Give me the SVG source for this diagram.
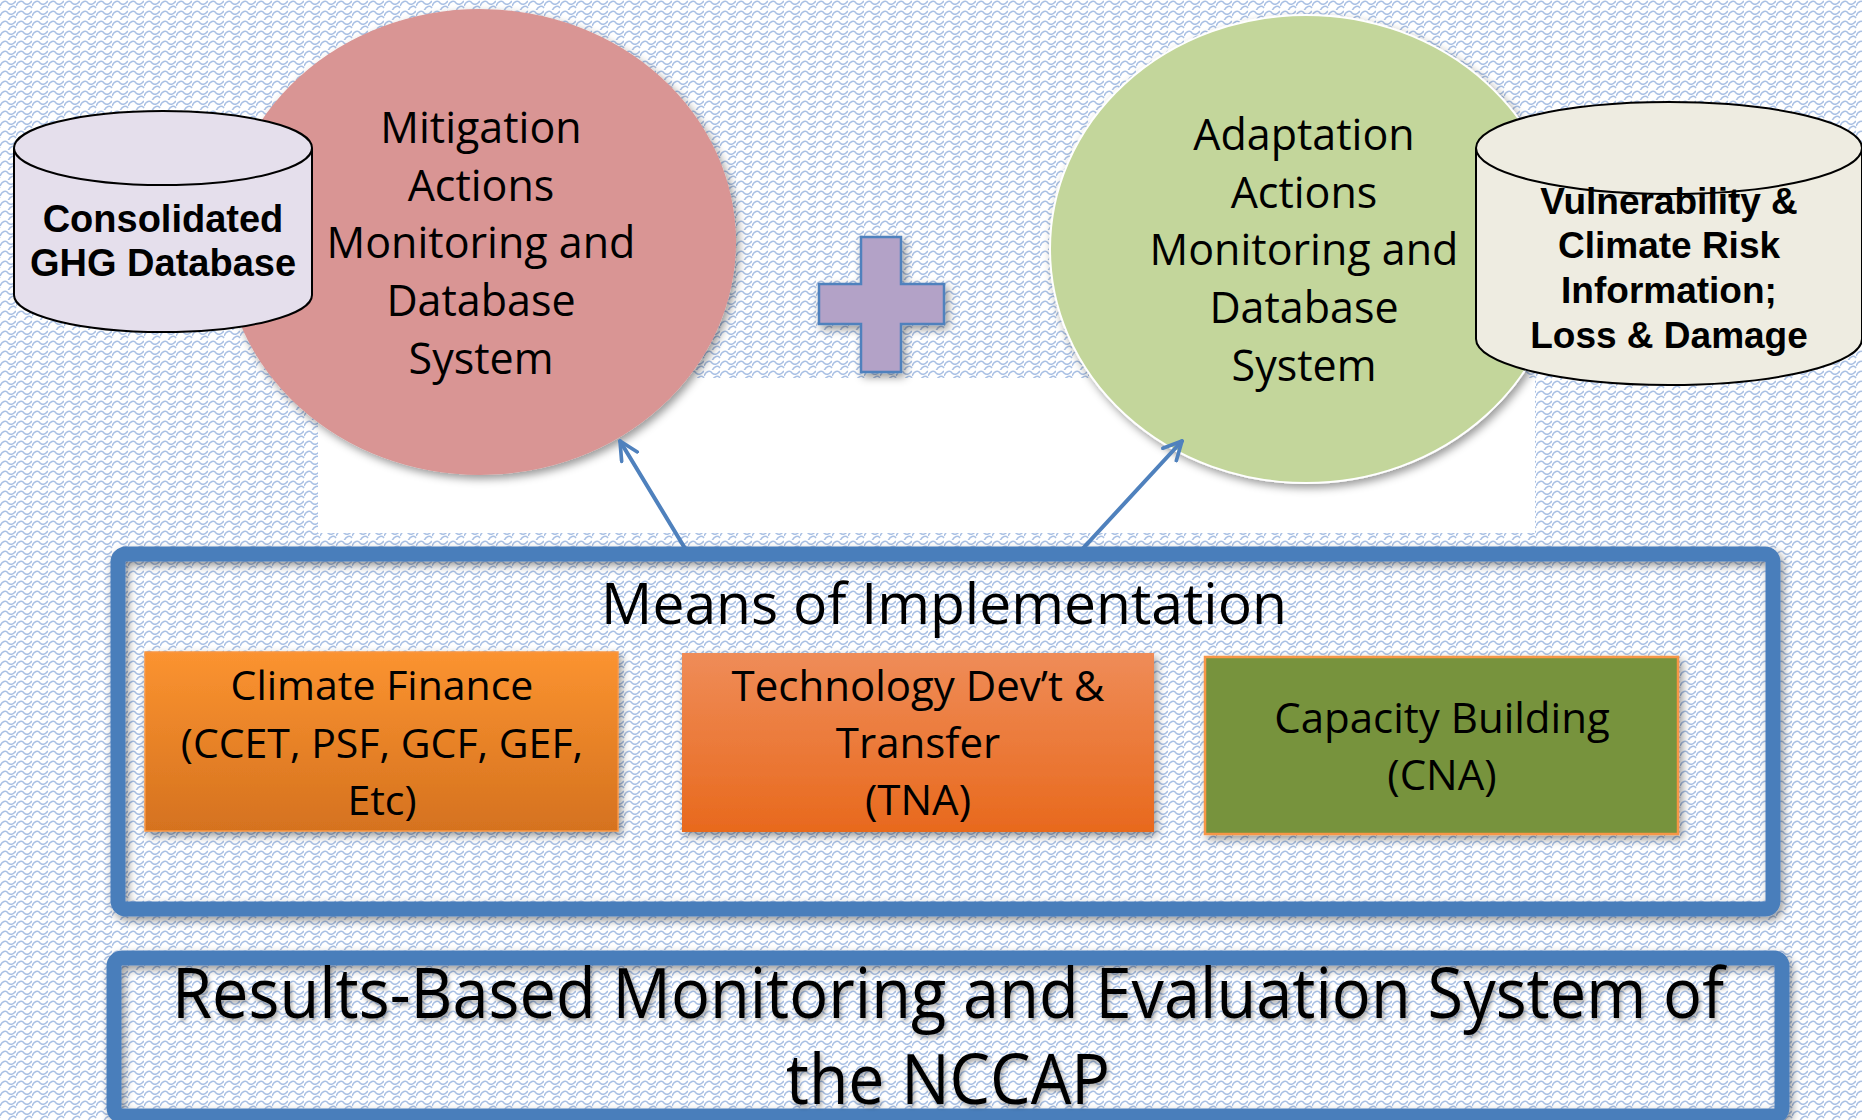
<svg xmlns="http://www.w3.org/2000/svg" width="1862" height="1120" viewBox="0 0 1862 1120">
<style>
.cal{font-family:"Open Sans","Noto Sans",sans-serif;fill:#000;text-anchor:middle}
.arb{font-family:"Liberation Sans",Arial,sans-serif;font-weight:bold;fill:#000;text-anchor:middle;font-size:37px}
.frame{fill:none;stroke:#4a7ebb;stroke-width:15}
.conn{stroke:#4f81bd;stroke-width:4;fill:none;stroke-linecap:round}
.cyl{stroke:#000;stroke-width:2}
</style>
<defs>
<pattern id="bg" width="16" height="10" patternUnits="userSpaceOnUse">
<rect width="16" height="10" fill="#fff"/>
<path d="M0,6 C2,1 6,0 8,3 C10,5 13,5 16,1 M-8,11 C-6,6 -2,5 0,8 M8,11 C10,6 14,5 16,8" fill="none" stroke="#a9c0e4" stroke-width="1.6"/>
</pattern>
<filter id="sh" x="-10%" y="-10%" width="125%" height="125%">
<feDropShadow dx="3" dy="4" stdDeviation="4" flood-color="#000" flood-opacity="0.4"/>
</filter>
<filter id="tsh" x="-5%" y="-20%" width="110%" height="150%">
<feDropShadow dx="2" dy="3" stdDeviation="2" flood-color="#000" flood-opacity="0.35"/>
</filter>
<linearGradient id="gFin" x1="0" y1="0" x2="0" y2="1">
<stop offset="0" stop-color="#fb9330"/>
<stop offset="1" stop-color="#d5721f"/>
</linearGradient>
<linearGradient id="gTech" x1="0" y1="0" x2="0" y2="1">
<stop offset="0" stop-color="#ef8c58"/>
<stop offset="1" stop-color="#e8691d"/>
</linearGradient>
<marker id="arr" viewBox="0 0 12 12" refX="11" refY="6" markerWidth="5.5" markerHeight="5.5" orient="auto" markerUnits="strokeWidth">
<path d="M1,1 L11,6 L1,11" fill="none" stroke="#4f81bd" stroke-width="2" stroke-linecap="round" stroke-linejoin="round"/>
</marker>
</defs>
<rect width="1862" height="1120" fill="url(#bg)"/>
<rect x="318" y="378" width="1217" height="155" fill="#fff"/>

<g id="mitigation">
<ellipse cx="480" cy="242" rx="256" ry="233" fill="#d99594" filter="url(#sh)"/>
<text class="cal" font-size="43"><tspan x="481" y="143">Mitigation</tspan><tspan x="481" y="201">Actions</tspan><tspan x="481" y="258">Monitoring and</tspan><tspan x="481" y="316">Database</tspan><tspan x="481" y="374">System</tspan></text>
</g>

<g id="ghg-db">
<path class="cyl" d="M14,148 L14,295 A149,37 0 0 0 312,295 L312,148" fill="#e5dfec"/>
<ellipse class="cyl" cx="163" cy="148" rx="149" ry="37" fill="#e5dfec"/>
<text class="arb" font-size="38" style="font-size:38px"><tspan x="163" y="232">Consolidated</tspan><tspan x="163" y="276">GHG Database</tspan></text>
</g>

<g id="plus">
<path d="M861,237 H901 V284 H944 V324 H901 V372 H861 V324 H819 V284 H861 Z" fill="#b3a2c7" stroke="#4f81bd" stroke-width="2.5" filter="url(#sh)"/>
</g>

<g id="adaptation">
<ellipse cx="1306" cy="249" rx="256" ry="234" fill="#c3d69b" stroke="#fff" stroke-width="2" filter="url(#sh)"/>
<text class="cal" font-size="43"><tspan x="1304" y="150">Adaptation</tspan><tspan x="1304" y="208">Actions</tspan><tspan x="1304" y="265">Monitoring and</tspan><tspan x="1304" y="323">Database</tspan><tspan x="1304" y="381">System</tspan></text>
</g>

<g id="vuln-db">
<path class="cyl" d="M1476,148 L1476,339 A193,46 0 0 0 1862,339 L1862,148" fill="#eeece1"/>
<ellipse class="cyl" cx="1669" cy="148" rx="193" ry="46" fill="#eeece1"/>
<text class="arb"><tspan x="1669" y="214">Vulnerability &amp;</tspan><tspan x="1669" y="258">Climate Risk</tspan><tspan x="1669" y="303">Information;</tspan><tspan x="1669" y="348">Loss &amp; Damage</tspan></text>
</g>

<g id="connectors">
<line class="conn" x1="686" y1="550" x2="620" y2="441" marker-end="url(#arr)"/>
<line class="conn" x1="1075" y1="557" x2="1182" y2="441" marker-end="url(#arr)"/>
</g>

<g id="means">
<rect class="frame" x="118" y="554" width="1655" height="355" rx="8" filter="url(#sh)"/>
<text class="cal" font-size="57" x="944" y="624">Means of Implementation</text>
</g>

<g id="finance">
<rect x="145" y="652" width="473" height="179" fill="url(#gFin)" stroke="#f79646" stroke-width="1.5" filter="url(#sh)"/>
<text class="cal" font-size="41"><tspan x="382" y="700">Climate Finance</tspan><tspan x="382" y="758">(CCET, PSF, GCF, GEF,</tspan><tspan x="382" y="815">Etc)</tspan></text>
</g>

<g id="technology">
<rect x="682" y="653" width="472" height="179" fill="url(#gTech)" filter="url(#sh)"/>
<text class="cal" font-size="42"><tspan x="918" y="701">Technology Dev’t &amp;</tspan><tspan x="918" y="758">Transfer</tspan><tspan x="918" y="815">(TNA)</tspan></text>
</g>

<g id="capacity">
<rect x="1205" y="657" width="473" height="177" fill="#77933c" stroke="#f79646" stroke-width="2.5" filter="url(#sh)"/>
<text class="cal" font-size="42"><tspan x="1442" y="733">Capacity Building</tspan><tspan x="1442" y="790">(CNA)</tspan></text>
</g>

<g id="results">
<rect class="frame" x="114" y="958" width="1668" height="158" rx="8" filter="url(#sh)"/>
<text class="cal" font-size="70" filter="url(#tsh)"><tspan x="948" y="1018" textLength="1552" lengthAdjust="spacingAndGlyphs">Results-Based Monitoring and Evaluation System of</tspan><tspan x="948" y="1104" textLength="324" lengthAdjust="spacingAndGlyphs">the NCCAP</tspan></text>
</g>
</svg>
